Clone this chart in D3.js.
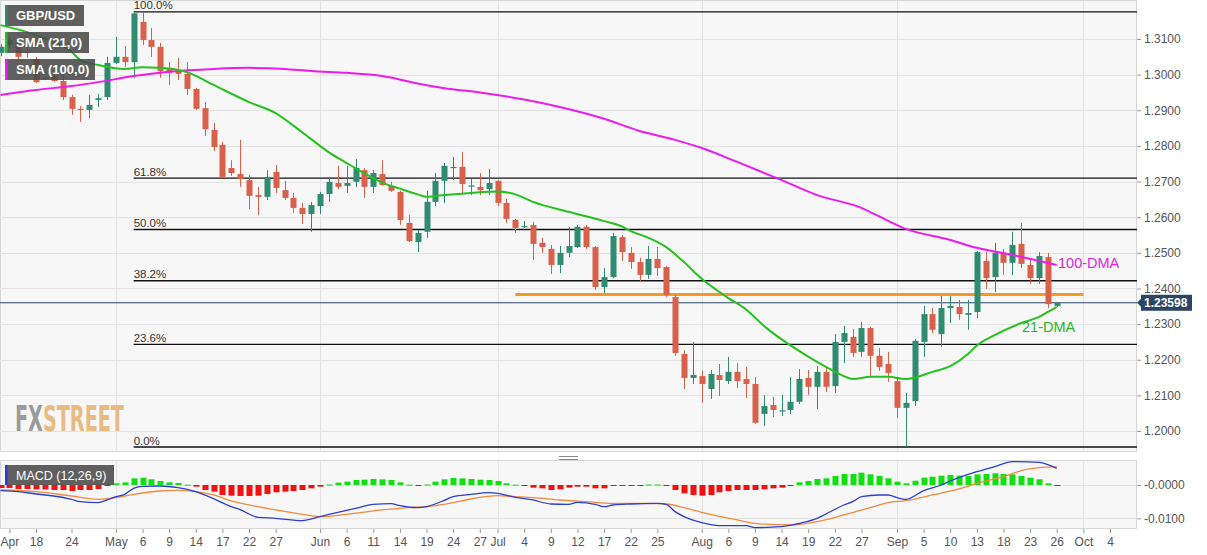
<!DOCTYPE html>
<html><head><meta charset="utf-8">
<script src="https://cdn.jsdelivr.net/npm/d3@7"></script>
<style>
html,body{margin:0;padding:0;background:#fff;}
svg{display:block;font-family:"Liberation Sans",Arial,sans-serif;}
</style></head><body>
<svg id="c" width="1207" height="555"></svg>
<script>
// ---------- DATA ----------
const startDate = "2019-04-12", endDate = "2019-10-12";
const open  = [1.3061,1.3083,1.3089,1.3064,1.3044,1.2989,1.2996,1.2982,1.2937,1.2904,1.2901,1.2929,1.2937,1.3033,1.3050,1.3035,1.3148,1.3097,1.3078,1.3019,1.3013,1.3002,1.2960,1.2906,1.2845,1.2803,1.2738,1.2721,1.2704,1.2662,1.2657,1.2727,1.2676,1.2654,1.2626,1.2609,1.2631,1.2665,1.2696,1.2688,1.2699,1.2732,1.2685,1.2721,1.2688,1.2671,1.2584,1.2530,1.2559,1.2643,1.2702,1.2738,1.2741,1.2686,1.2685,1.2679,1.2702,1.2640,1.2592,1.2573,1.2578,1.2528,1.2511,1.2466,1.2500,1.2516,1.2573,1.2516,1.2404,1.2432,1.2544,1.2500,1.2474,1.2438,1.2483,1.2460,1.2376,1.2216,1.2149,1.2154,1.2118,1.2157,1.2140,1.2166,1.2146,1.2132,1.2048,1.2073,1.2055,1.2059,1.2082,1.2149,1.2124,1.2166,1.2126,1.2250,1.2264,1.2222,1.2289,1.2211,1.2188,1.2140,1.2065,1.2084,1.2250,1.2328,1.2272,1.2345,1.2348,1.2326,1.2334,1.2477,1.2432,1.2500,1.2472,1.2525,1.2466,1.2429,1.2488,1.2351];
const high  = [1.3086,1.3106,1.3097,1.3078,1.3050,1.2996,1.3005,1.3005,1.2943,1.2912,1.2943,1.2946,1.3050,1.3106,1.3080,1.3176,1.3173,1.3131,1.3089,1.3035,1.3047,1.3035,1.2963,1.2923,1.2864,1.2811,1.2760,1.2817,1.2718,1.2685,1.2732,1.2746,1.2702,1.2668,1.2640,1.2643,1.2671,1.2713,1.2744,1.2744,1.2763,1.2738,1.2732,1.2760,1.2699,1.2674,1.2606,1.2564,1.2674,1.2724,1.2752,1.2769,1.2783,1.2707,1.2724,1.2735,1.2704,1.2651,1.2595,1.2589,1.2587,1.2542,1.2522,1.2519,1.2573,1.2578,1.2578,1.2519,1.2457,1.2556,1.2550,1.2516,1.2486,1.2519,1.2516,1.2463,1.2382,1.2227,1.2250,1.2169,1.2171,1.2188,1.2208,1.2191,1.2180,1.2152,1.2101,1.2096,1.2101,1.2152,1.2174,1.2171,1.2182,1.2177,1.2272,1.2295,1.2286,1.2306,1.2292,1.2233,1.2222,1.2152,1.2107,1.2258,1.2351,1.2345,1.2379,1.2379,1.2368,1.2368,1.2505,1.2502,1.2528,1.2511,1.2559,1.2584,1.2480,1.2502,1.2500,1.2362];
const low   = [1.3052,1.3075,1.3041,1.3047,1.2977,1.2985,1.2979,1.2929,1.2887,1.2867,1.2878,1.2909,1.2929,1.3030,1.3021,1.2991,1.3083,1.3050,1.2991,1.2971,1.2985,1.2943,1.2901,1.2828,1.2786,1.2710,1.2716,1.2685,1.2623,1.2606,1.2648,1.2668,1.2648,1.2612,1.2581,1.2559,1.2609,1.2643,1.2679,1.2668,1.2685,1.2654,1.2668,1.2688,1.2671,1.2578,1.2530,1.2502,1.2542,1.2631,1.2640,1.2704,1.2668,1.2662,1.2662,1.2662,1.2631,1.2584,1.2556,1.2570,1.2480,1.2500,1.2441,1.2443,1.2488,1.2514,1.2511,1.2396,1.2387,1.2429,1.2477,1.2455,1.2418,1.2427,1.2435,1.2376,1.2211,1.2118,1.2132,1.2079,1.2090,1.2098,1.2132,1.2121,1.2093,1.2020,1.2014,1.2039,1.2042,1.2048,1.2076,1.2101,1.2062,1.2110,1.2107,1.2191,1.2208,1.2208,1.2154,1.2169,1.2138,1.2037,1.1955,1.2070,1.2208,1.2275,1.2236,1.2303,1.2312,1.2284,1.2317,1.2399,1.2390,1.2438,1.2438,1.2457,1.2413,1.2413,1.2345,1.2348];
const close = [1.3078,1.3097,1.3050,1.3061,1.2979,1.2991,1.2982,1.2937,1.2904,1.2901,1.2915,1.2934,1.3033,1.3050,1.3035,1.3172,1.3097,1.3078,1.3010,1.3005,1.3002,1.2960,1.2904,1.2847,1.2797,1.2713,1.2724,1.2707,1.2660,1.2657,1.2713,1.2682,1.2654,1.2626,1.2609,1.2634,1.2665,1.2699,1.2685,1.2696,1.2738,1.2685,1.2724,1.2690,1.2674,1.2592,1.2533,1.2556,1.2643,1.2702,1.2744,1.2741,1.2693,1.2689,1.2676,1.2696,1.2640,1.2595,1.2570,1.2575,1.2525,1.2516,1.2466,1.2500,1.2519,1.2573,1.2516,1.2404,1.2432,1.2547,1.2502,1.2474,1.2438,1.2483,1.2457,1.2382,1.2219,1.2149,1.2157,1.2132,1.2160,1.2143,1.2166,1.2140,1.2132,1.2023,1.2070,1.2059,1.2058,1.2082,1.2146,1.2124,1.2166,1.2124,1.2250,1.2275,1.2219,1.2289,1.2211,1.2180,1.2163,1.2065,1.2079,1.2253,1.2328,1.2284,1.2345,1.2351,1.2328,1.2331,1.2502,1.2429,1.2500,1.2472,1.2522,1.2469,1.2429,1.2491,1.2356,1.23598];

const sma21 = [["04-12",1.3139],["04-18",1.3111],["04-24",1.3064],["04-25",1.3041],["04-29",1.3027],["05-02",1.3016],["05-06",1.3021],["05-08",1.3019],["05-10",1.3013],["05-13",1.3007],["05-16",1.2971],["05-22",1.2923],["05-27",1.2892],["05-29",1.2857],["05-31",1.2819],["06-04",1.2782],["06-06",1.2752],["06-10",1.2723],["06-12",1.2697],["06-14",1.2680],["06-18",1.2664],["06-19",1.2657],["06-21",1.2662],["06-26",1.2668],["07-01",1.2672],["07-03",1.2664],["07-05",1.2643],["07-11",1.2615],["07-17",1.2589],["07-19",1.2574],["07-22",1.2561],["07-24",1.2542],["07-26",1.2516],["07-30",1.2474],["08-01",1.2427],["08-06",1.2373],["08-08",1.2341],["08-12",1.2295],["08-14",1.2257],["08-19",1.2209],["08-21",1.2180],["08-23",1.2154],["08-26",1.2146],["08-28",1.2152],["08-30",1.2152],["09-03",1.2146],["09-06",1.2166],["09-10",1.2182],["09-12",1.2216],["09-13",1.2240],["09-17",1.2269],["09-20",1.2303],["09-24",1.2320],["09-25",1.2334],["09-26",1.2348]];
const sma100 = [["04-12",1.2943],["04-18",1.2957],["04-24",1.2968],["04-29",1.2979],["05-03",1.2996],["05-09",1.3008],["05-16",1.3016],["05-22",1.3019],["05-28",1.3016],["05-31",1.3010],["06-06",1.3005],["06-12",1.2996],["06-18",1.2975],["06-21",1.2962],["06-27",1.2950],["07-04",1.2930],["07-10",1.2909],["07-17",1.2876],["07-23",1.2842],["07-29",1.2817],["08-01",1.2794],["08-07",1.2755],["08-14",1.2704],["08-20",1.2662],["08-27",1.2626],["08-29",1.2602],["09-03",1.2567],["09-10",1.2536],["09-13",1.2514],["09-19",1.2494],["09-26",1.2466]];

const macdLine = [["04-12",-0.0017],["04-16",-0.0020],["04-18",-0.0027],["04-22",-0.0033],["04-24",-0.0043],["04-25",-0.0050],["04-29",-0.0053],["04-30",-0.0045],["05-01",-0.0035],["05-02",-0.0028],["05-03",-0.0010],["05-06",-0.0004],["05-08",-0.0003],["05-10",-0.0008],["05-14",-0.0020],["05-16",-0.0041],["05-20",-0.0065],["05-21",-0.0074],["05-23",-0.0097],["05-27",-0.0100],["05-30",-0.0107],["06-03",-0.0095],["06-05",-0.0082],["06-07",-0.0070],["06-11",-0.0058],["06-13",-0.0056],["06-14",-0.0062],["06-18",-0.0068],["06-19",-0.0065],["06-21",-0.0046],["06-24",-0.0035],["06-26",-0.0028],["06-28",-0.0023],["07-01",-0.0025],["07-03",-0.0037],["07-05",-0.0045],["07-09",-0.0057],["07-11",-0.0058],["07-12",-0.0052],["07-16",-0.0058],["07-17",-0.0065],["07-18",-0.0060],["07-22",-0.0057],["07-25",-0.0055],["07-26",-0.0058],["07-29",-0.0080],["07-30",-0.0095],["08-01",-0.0113],["08-05",-0.0122],["08-08",-0.0122],["08-09",-0.0128],["08-14",-0.0125],["08-16",-0.0115],["08-20",-0.0100],["08-21",-0.0087],["08-23",-0.0060],["08-26",-0.0050],["08-27",-0.0035],["08-29",-0.0030],["08-30",-0.0030],["09-02",-0.0038],["09-03",-0.0043],["09-05",-0.0017],["09-09",0.0000],["09-10",0.0012],["09-13",0.0040],["09-17",0.0055],["09-19",0.0070],["09-24",0.0068],["09-26",0.0050]];
const signalLine = [["04-12",-0.0015],["04-18",-0.0020],["04-24",-0.0033],["04-29",-0.0043],["05-01",-0.0038],["05-03",-0.0028],["05-08",-0.0018],["05-10",-0.0016],["05-14",-0.0020],["05-16",-0.0030],["05-20",-0.0048],["05-23",-0.0065],["05-27",-0.0075],["05-30",-0.0088],["06-03",-0.0095],["06-06",-0.0088],["06-12",-0.0075],["06-17",-0.0068],["06-19",-0.0065],["06-24",-0.0053],["06-26",-0.0042],["07-01",-0.0032],["07-03",-0.0035],["07-05",-0.0038],["07-10",-0.0045],["07-15",-0.0050],["07-18",-0.0055],["07-24",-0.0055],["07-26",-0.0057],["07-30",-0.0068],["08-01",-0.0082],["08-07",-0.0105],["08-09",-0.0115],["08-15",-0.0120],["08-20",-0.0110],["08-23",-0.0090],["08-28",-0.0068],["08-30",-0.0053],["09-03",-0.0047],["09-06",-0.0030],["09-11",-0.0012],["09-13",0.0005],["09-18",0.0025],["09-20",0.0043],["09-24",0.0052],["09-26",0.0055]];
const histogram = [-0.0009,-0.0009,-0.0012,-0.0012,-0.0013,-0.00135,-0.0015,-0.0015,-0.0018,-0.0015,-0.0015,-0.0012,-0.0003,
 0.0005,0.0008,0.0020,0.0022,0.0017,0.0012,0.0008,0.0006,0.0001,
 -0.0005,-0.0015,-0.0020,-0.0030,-0.0032,-0.0033,-0.0033,-0.0032,-0.0027,-0.0022,-0.0020,-0.0018,-0.0015,-0.0010,-0.0005,
 0.00015,0.0007,0.0010,0.0015,0.0016,0.0018,0.0017,0.0015,0.0008,0.0001,
 -0.0002,
 0.00015,0.0010,0.0017,0.0021,0.0020,0.0018,0.0016,0.0015,0.0012,0.0005,0.0001,
 -0.0003,-0.0008,-0.0010,-0.0015,-0.0013,-0.0008,-0.0005,-0.0005,-0.0010,-0.0010,-0.0002,-0.0001,-0.0002,-0.00015,
 0.00015,0.00015,
 -0.0002,-0.0015,-0.0025,-0.0030,-0.0032,-0.0030,-0.0022,-0.0018,-0.0015,-0.0015,-0.0015,-0.0013,-0.0010,-0.0008,-0.0002,
 0.0008,0.0012,0.0018,0.0020,0.0027,0.0033,0.0033,0.0037,0.0032,0.0027,0.0020,0.0010,0.0005,0.0013,0.0022,0.0025,0.0028,0.0030,0.0028,0.0027,0.0032,0.0033,0.0035,0.0033,0.0032,0.0027,0.0022,0.0017,0.0005,
 -0.0003];

const priceTicks = [1.20,1.21,1.22,1.23,1.24,1.25,1.26,1.27,1.28,1.29,1.30,1.31];
const macdTicks = [0,-0.01];
const macdTickLabels = ["-0.0000","-0.0100"];
const xTickDates = ["04-15","04-18","04-24","05-01","05-06","05-09","05-14","05-17","05-22","05-27","06-03","06-06","06-11","06-14","06-19","06-24","06-27","07-01","07-04","07-09","07-12","07-17","07-22","07-25","08-01","08-06","08-09","08-14","08-19","08-22","08-27","09-02","09-05","09-10","09-13","09-18","09-23","09-26","10-01","10-04"];
const xTickLabels = ["Apr","18","24","May","6","9","14","17","22","27","Jun","6","11","14","19","24","27","Jul","4","9","12","17","22","25","Aug","6","9","14","19","22","27","Sep","5","10","13","18","23","26","Oct","4"];
const monthStarts = ["05-01","06-03","07-01","08-01","09-02","10-01"];
const fibHigh = 1.3176, fibLow = 1.1955, fibStart = "05-03";
const fibRatios = [1,0.618,0.5,0.382,0.236,0];
const fibLabels = ["100.0%","61.8%","50.0%","38.2%","23.6%","0.0%"];
const supportLevel = 1.2383, supportFrom = "07-03", supportTo = "10-01";
const lastPrice = 1.23598;

// ---------- LAYOUT ----------
const PR = 1137, MT = 0, MB = 452, KT = 460, KB = 529;
const svg = d3.select("#c");
const fmt = d3.utcFormat("%Y-%m-%d");
const days = d3.utcDay.range(new Date(startDate+"T00:00:00Z"), new Date(endDate+"T00:00:00Z")).filter(d=>d.getUTCDay()%6!==0);
const idx = new Map(days.map((d,i)=>[fmt(d),i]));
const di = s => idx.get("2019-"+s);
const x = d3.scaleLinear().domain([0,125]).range([0.5,1110]);
const y = d3.scaleLinear().domain([1.20,1.31]).range([431,39]);
const ym = d3.scaleLinear().domain([-0.01,0]).range([518.3,485]);

const defs = svg.append("defs");
defs.append("clipPath").attr("id","cm").append("rect").attr("x",0).attr("y",MT).attr("width",PR).attr("height",MB-MT);
defs.append("clipPath").attr("id","ck").append("rect").attr("x",0).attr("y",KT).attr("width",PR).attr("height",KB-KT);

// panels
svg.append("rect").attr("x",0.5).attr("y",0.5).attr("width",PR-1).attr("height",MB-1).attr("fill","#f7f7f7").attr("stroke","#d6d6d6");
svg.append("rect").attr("x",0.5).attr("y",KT+0.5).attr("width",PR-1).attr("height",KB-KT-1).attr("fill","#f7f7f7").attr("stroke","#d6d6d6");

// grid
const g = svg.append("g");
g.selectAll(".hg").data(priceTicks).join("line").attr("x1",0).attr("x2",PR).attr("y1",d=>Math.round(y(d))+0.5).attr("y2",d=>Math.round(y(d))+0.5).attr("stroke","#e3e3e3");
g.selectAll(".mg").data(macdTicks).join("line").attr("x1",0).attr("x2",PR).attr("y1",d=>Math.round(ym(d))+0.5).attr("y2",d=>Math.round(ym(d))+0.5).attr("stroke","#e3e3e3");
monthStarts.forEach(m=>{
  const xx = Math.round(x(di(m)))+0.5;
  g.append("line").attr("x1",xx).attr("x2",xx).attr("y1",1).attr("y2",MB-1).attr("stroke","#e3e3e3");
  g.append("line").attr("x1",xx).attr("x2",xx).attr("y1",KT+1).attr("y2",KB-1).attr("stroke","#e3e3e3");
});

// FXSTREET logo (single text, squeezed horizontally to the logo width)
const lg = svg.append("text").attr("x",0).attr("y",0)
  .attr("font-family","'Liberation Sans Narrow','DejaVu Sans Condensed',sans-serif").attr("font-weight","bold").attr("font-size",34);
lg.append("tspan").attr("fill","#9b9b9b").text("FX");
lg.append("tspan").attr("fill","#e8bb82").text("STREET");
const lw = lg.node().getComputedTextLength();
lg.attr("transform",`translate(15,431) scale(${109/lw},1.05)`);

const main = svg.append("g").attr("clip-path","url(#cm)");
// fib lines
const fx0 = x(di(fibStart));
fibRatios.forEach((r,k)=>{
  const p = fibLow + r*(fibHigh-fibLow);
  const yy = y(p);
  main.append("line").attr("x1",fx0).attr("x2",PR).attr("y1",yy).attr("y2",yy).attr("stroke","#111").attr("stroke-width",1.4);
  svg.append("text").attr("x",fx0).attr("y",yy-2.5).attr("font-size",11.5).attr("fill","#333").text(fibLabels[k]);
});
// last price line
main.append("line").attr("x1",0).attr("x2",PR).attr("y1",y(lastPrice)).attr("y2",y(lastPrice)).attr("stroke","#2b4565").attr("stroke-width",1);
// support
main.append("line").attr("x1",x(di(supportFrom))).attr("x2",x(di(supportTo))).attr("y1",y(supportLevel)).attr("y2",y(supportLevel)).attr("stroke","#f59a1e").attr("stroke-width",3.2);

// candles
const candles = open.map((o,i)=>({i,o,h:high[i],l:low[i],c:close[i]}));
const up = "#2f8c70", dn = "#d9604a";
const cg = main.append("g");
cg.selectAll("line").data(candles).join("line")
  .attr("x1",d=>Math.round(x(d.i))+0.5).attr("x2",d=>Math.round(x(d.i))+0.5)
  .attr("y1",d=>y(d.h)).attr("y2",d=>y(d.l)).attr("stroke",d=>d.c>=d.o?up:dn).attr("stroke-width",1);
cg.selectAll("rect").data(candles).join("rect")
  .attr("x",d=>Math.round(x(d.i))-2.5).attr("width",6)
  .attr("y",d=>Math.min(y(d.o),y(d.c))).attr("height",d=>Math.max(1.2,Math.abs(y(d.o)-y(d.c))))
  .attr("fill",d=>d.c>=d.o?up:dn);

// SMA lines
const line = d3.line().x(d=>x(di(d[0]))).y(d=>y(d[1])).curve(d3.curveMonotoneX);
main.append("path").attr("d",line(sma100)).attr("fill","none").attr("stroke","#ee1bee").attr("stroke-width",2);
main.append("path").attr("d",line(sma21)).attr("fill","none").attr("stroke","#25c21f").attr("stroke-width",2);

svg.append("text").attr("x",1058).attr("y",268).attr("font-size",14.5).attr("fill","#e11fe1").text("100-DMA");
svg.append("text").attr("x",1022).attr("y",332).attr("font-size",14.5).attr("fill","#2bb52b").text("21-DMA");

// legend boxes
function legend(yy,w,label,col){
  svg.append("rect").attr("x",5).attr("y",yy).attr("width",w).attr("height",21).attr("fill","#4a4a4a").attr("opacity",0.88);
  svg.append("rect").attr("x",5).attr("y",yy).attr("width",2.5).attr("height",21).attr("fill",col);
  svg.append("text").attr("x",16).attr("y",yy+15).attr("font-size",13).attr("font-weight","bold").attr("fill","#fff").text(label);
}
legend(5,79,"GBP/USD","#2f8c70");
legend(32,84,"SMA (21,0)","#25c21f");
legend(59,90,"SMA (100,0)","#ee1bee");

// MACD panel
const mk = svg.append("g").attr("clip-path","url(#ck)");
mk.selectAll("rect").data(histogram).join("rect")
  .attr("x",(d,i)=>Math.round(x(i))-2.5).attr("width",6)
  .attr("y",d=>Math.min(ym(d),ym(0))).attr("height",d=>Math.max(1,Math.abs(ym(d)-ym(0))))
  .attr("fill",d=>d>=0?"#10e010":"#f51010");
const mline = d3.line().x(d=>x(di(d[0]))).y(d=>ym(d[1])).curve(d3.curveMonotoneX);
mk.append("path").attr("d",mline(signalLine)).attr("fill","none").attr("stroke","#f08a3c").attr("stroke-width",1.3);
mk.append("path").attr("d",mline(macdLine)).attr("fill","none").attr("stroke","#2a3fd0").attr("stroke-width",1.3);
svg.append("rect").attr("x",5).attr("y",465).attr("width",109).attr("height",20).attr("fill","#4a4a4a").attr("opacity",0.88);
svg.append("rect").attr("x",5).attr("y",465).attr("width",2.5).attr("height",20).attr("fill","#2a3fd0");
svg.append("text").attr("x",16).attr("y",480).attr("font-size",12.5).attr("fill","#fff").text("MACD (12,26,9)");

// splitter
svg.append("line").attr("x1",559).attr("x2",578).attr("y1",456.5).attr("y2",456.5).attr("stroke","#888");
svg.append("line").attr("x1",559).attr("x2",578).attr("y1",459.5).attr("y2",459.5).attr("stroke","#888");

// right axes
const ax = svg.append("g").attr("transform",`translate(${PR},0)`)
  .call(d3.axisRight(y).tickValues(priceTicks).tickFormat(d3.format(".4f")).tickSize(4).tickPadding(3));
const ax2 = svg.append("g").attr("transform",`translate(${PR},0)`)
  .call(d3.axisRight(ym).tickValues(macdTicks).tickFormat((d,i)=>macdTickLabels[i]).tickSize(4).tickPadding(3));
[ax,ax2].forEach(a=>{a.select(".domain").remove();a.selectAll("line").attr("stroke","#999");a.selectAll("text").attr("fill","#555").attr("font-size",12).attr("font-family","'Liberation Sans',Arial,sans-serif");});

// x axis
const xa = svg.append("g").attr("transform",`translate(0,${KB})`)
  .call(d3.axisBottom(x).tickValues(xTickDates.map(di)).tickFormat((d,i)=>xTickLabels[i]).tickSize(4).tickPadding(4));
xa.select(".domain").remove();
xa.selectAll("line").attr("stroke","#999");
xa.selectAll("text").attr("fill","#555").attr("font-size",12).attr("font-family","'Liberation Sans',Arial,sans-serif");

// last price tag
const ly = y(lastPrice);
svg.append("path").attr("d",`M${PR},${ly} L${PR+5},${ly-5} L${PR+5},${ly+5}Z`).attr("fill","#2b4565");
svg.append("rect").attr("x",PR+4).attr("y",ly-8).attr("width",51).attr("height",16).attr("fill","#2b4565");
svg.append("text").attr("x",PR+7).attr("y",ly+4.5).attr("font-size",12).attr("font-weight","bold").attr("fill","#fff").text(lastPrice.toFixed(5));
</script>
</body></html>
